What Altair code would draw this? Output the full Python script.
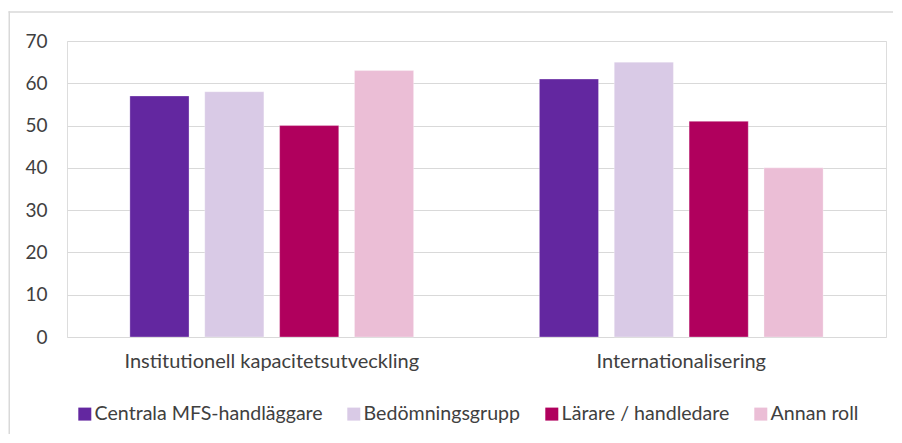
import altair as alt
import pandas as pd

categories = ["Institutionell kapacitetsutveckling", "Internationalisering"]
roles = ["Centrala MFS-handläggare", "Bedömningsgrupp", "Lärare / handledare", "Annan roll"]
colors = ["#6327A0", "#D9CAE6", "#B0005D", "#EBBED6"]
values = {
    "Centrala MFS-handläggare": [57, 61],
    "Bedömningsgrupp": [58, 65],
    "Lärare / handledare": [50, 51],
    "Annan roll": [63, 40],
}
y_ticks = [0, 10, 20, 30, 40, 50, 60, 70]

rows = []
for r in roles:
    for c, v in zip(categories, values[r]):
        rows.append({"kategori": c, "roll": r, "varde": v})
df = pd.DataFrame(rows)

FONT = "Lato"
TXT = "#404040"

bars = alt.Chart(df).mark_bar(stroke="#ffffff", strokeWidth=0.6, strokeOpacity=0.5).encode(
    x=alt.X(
        "kategori:N",
        sort=categories,
        scale=alt.Scale(paddingInner=0, paddingOuter=0),
        axis=alt.Axis(
            title=None, labelAngle=0, labelFontSize=20, labelPadding=14, labelLimit=0,
            ticks=False, domain=False, grid=False, labelColor=TXT, labelFont=FONT,
        ),
    ),
    xOffset=alt.XOffset(
        "roll:N", sort=roles, scale=alt.Scale(paddingInner=0.21, paddingOuter=0.84)
    ),
    y=alt.Y(
        "varde:Q",
        scale=alt.Scale(domain=[0, 70]),
        axis=alt.Axis(
            title=None, values=y_ticks, grid=True, gridColor="#D9D9D9", gridWidth=1.2,
            domain=False, ticks=False, labelPadding=20, labelFontSize=19,
            labelColor=TXT, labelFont=FONT,
        ),
    ),
    color=alt.Color(
        "roll:N",
        sort=roles,
        scale=alt.Scale(domain=roles, range=colors),
        legend=alt.Legend(
            title=None, orient="none", direction="horizontal", legendX=8, legendY=363,
            symbolType="square", symbolSize=169, symbolStrokeWidth=0,
            labelFontSize=19.6, labelFont=FONT, labelColor=TXT, labelOffset=0,
            labelLimit=0, columnPadding=21, columns=4,
        ),
    ),
)

frame_df = pd.DataFrame({"a": [0]})
top_line = alt.Chart(frame_df).mark_rect(color="#D9D9D9", strokeWidth=0).encode(
    x=alt.value(-58.5), x2=alt.value(826), y=alt.value(-29.75), y2=alt.value(-28.25)
)
left_line = alt.Chart(frame_df).mark_rect(color="#D9D9D9", strokeWidth=0).encode(
    x=alt.value(-58.5), x2=alt.value(-57), y=alt.value(-29.75), y2=alt.value(393)
)

chart = alt.layer(bars, top_line, left_line).properties(
    width=819,
    height=296,
    autosize=alt.AutoSizeParams(type="none"),
    padding={"left": 59, "top": 33, "right": 8, "bottom": 98},
).configure_view(stroke="transparent", strokeWidth=0).configure(font=FONT)

chart.save("out.html", embed_options={"renderer": "svg", "actions": False})
